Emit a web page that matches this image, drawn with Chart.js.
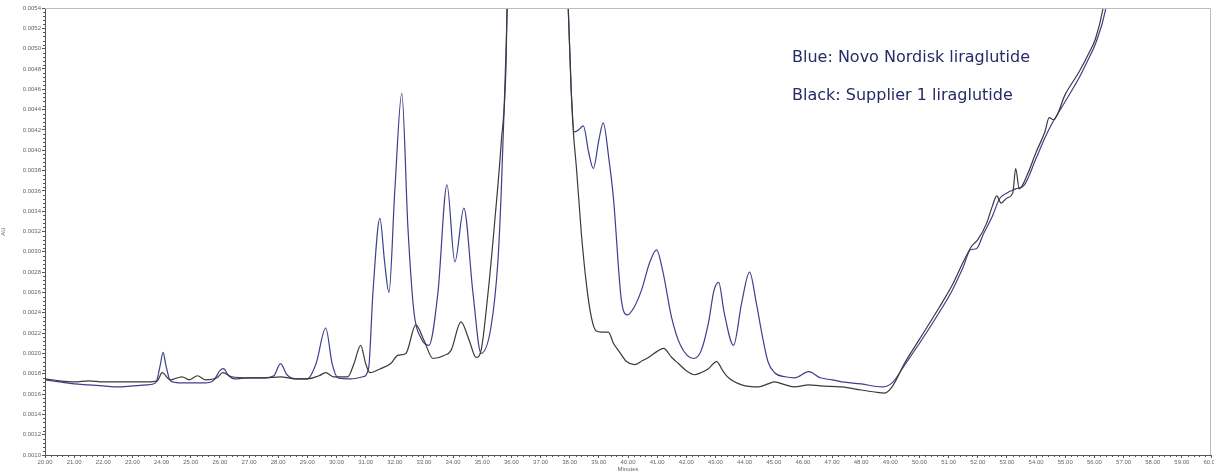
<!DOCTYPE html>
<html>
<head>
<meta charset="utf-8">
<script src="https://cdn.jsdelivr.net/npm/chart.js@4/dist/chart.umd.min.js"></script>
<style>
  html, body { margin: 0; padding: 0; background: #fff; }
  canvas { display: block; }
</style>
</head>
<body>
<canvas id="chrom" width="1214" height="474"></canvas>
<script>
// retention time (min) and absorbance (AU)
const blueTime = [20.0, 20.5, 21.0, 21.5, 22.0, 22.5, 23.0, 23.5, 23.8, 23.95, 24.05, 24.15, 24.3, 24.6, 25.0, 25.5, 25.8, 26.0, 26.12, 26.3, 26.5, 27.0, 27.5, 27.85, 28.08, 28.3, 28.6, 29.0, 29.3, 29.63, 29.85, 30.05, 30.5, 30.9, 31.1, 31.25, 31.49, 31.65, 31.8, 32.0, 32.24, 32.45, 32.66, 32.9, 33.17, 33.48, 33.79, 34.06, 34.37, 34.68, 34.96, 35.3, 35.54, 35.65, 35.75, 35.9, 36.3, 37.0, 37.6, 37.85, 37.95, 38.05, 38.16, 38.3, 38.47, 38.65, 38.81, 39.0, 39.15, 39.35, 39.5, 39.77, 39.98, 40.2, 40.46, 40.75, 40.98, 41.2, 41.49, 41.8, 42.25, 42.5, 42.76, 42.95, 43.11, 43.3, 43.62, 43.9, 44.17, 44.4, 44.59, 44.8, 45.03, 45.4, 45.72, 46.2, 46.6, 47.0, 47.34, 48.0, 48.7, 49.06, 49.5, 50.0, 50.67, 51.12, 51.5, 51.75, 51.95, 52.2, 52.5, 52.74, 53.0, 53.3, 53.6, 54.0, 54.3, 54.56, 55.0, 55.49, 55.8, 56.04, 56.38, 56.7];
const blueAU = [0.00174, 0.00172, 0.00170, 0.00169, 0.00168, 0.00167, 0.00168, 0.00169, 0.00171, 0.00188, 0.00201, 0.00188, 0.00173, 0.00171, 0.00171, 0.00171, 0.00174, 0.00183, 0.00185, 0.00178, 0.00175, 0.00176, 0.00176, 0.00178, 0.00190, 0.00179, 0.00175, 0.00175, 0.00190, 0.00225, 0.00190, 0.00176, 0.00175, 0.00177, 0.00185, 0.00260, 0.00333, 0.00290, 0.00260, 0.00360, 0.00456, 0.00324, 0.00240, 0.00215, 0.00208, 0.00260, 0.00366, 0.00290, 0.00343, 0.00260, 0.00200, 0.00226, 0.00292, 0.00358, 0.00440, 0.00600, 0.01500, 0.02500, 0.01000, 0.00620, 0.00540, 0.00460, 0.00418, 0.00420, 0.00424, 0.00398, 0.00382, 0.00410, 0.00427, 0.00390, 0.00353, 0.00253, 0.00238, 0.00245, 0.00262, 0.00290, 0.00302, 0.00280, 0.00236, 0.00208, 0.00195, 0.00202, 0.00230, 0.00262, 0.00270, 0.00240, 0.00208, 0.00250, 0.00280, 0.00250, 0.00220, 0.00192, 0.00181, 0.00177, 0.00176, 0.00182, 0.00176, 0.00174, 0.00172, 0.00170, 0.00167, 0.00171, 0.00189, 0.00210, 0.00240, 0.00262, 0.00285, 0.00302, 0.00303, 0.00318, 0.00335, 0.00352, 0.00358, 0.00362, 0.00366, 0.00392, 0.00412, 0.00427, 0.00448, 0.00472, 0.00490, 0.00505, 0.00538, 0.00600];

const blackTime = [20.0, 20.5, 21.0, 21.5, 22.0, 22.5, 23.0, 23.5, 23.85, 24.02, 24.3, 24.7, 24.95, 25.23, 25.5, 25.9, 26.1, 26.4, 27.0, 27.5, 28.08, 28.6, 29.0, 29.4, 29.63, 29.9, 30.39, 30.6, 30.83, 31.0, 31.15, 31.28, 31.52, 31.86, 32.1, 32.38, 32.72, 33.0, 33.31, 33.69, 33.93, 34.27, 34.55, 34.79, 34.96, 35.2, 35.41, 35.65, 35.82, 36.0, 36.7, 37.6, 37.95, 38.05, 38.12, 38.23, 38.4, 38.57, 38.74, 38.91, 39.1, 39.33, 39.5, 39.67, 39.95, 40.22, 40.5, 40.7, 41.0, 41.22, 41.5, 41.73, 42.0, 42.28, 42.5, 42.76, 43.04, 43.25, 43.45, 43.9, 44.48, 44.8, 45.03, 45.4, 45.72, 46.2, 46.6, 47.34, 48.0, 48.47, 48.8, 49.06, 49.5, 50.0, 50.67, 51.12, 51.5, 51.8, 52.0, 52.3, 52.5, 52.65, 52.8, 53.0, 53.2, 53.3, 53.42, 53.7, 54.0, 54.3, 54.45, 54.6, 55.0, 55.49, 55.8, 56.04, 56.3, 56.6];
const blackAU = [0.00175, 0.00173, 0.00172, 0.00173, 0.00172, 0.00172, 0.00172, 0.00172, 0.00173, 0.00181, 0.00174, 0.00177, 0.00174, 0.00178, 0.00174, 0.00176, 0.00181, 0.00177, 0.00176, 0.00176, 0.00177, 0.00175, 0.00175, 0.00178, 0.00181, 0.00177, 0.00177, 0.00190, 0.00208, 0.00190, 0.00181, 0.00182, 0.00185, 0.00190, 0.00198, 0.00200, 0.00228, 0.00213, 0.00195, 0.00198, 0.00203, 0.00231, 0.00213, 0.00196, 0.00203, 0.00260, 0.00324, 0.00407, 0.00489, 0.00800, 0.03000, 0.00900, 0.00540, 0.00460, 0.00420, 0.00383, 0.00318, 0.00269, 0.00236, 0.00222, 0.00221, 0.00221, 0.00210, 0.00203, 0.00192, 0.00189, 0.00193, 0.00196, 0.00202, 0.00205, 0.00196, 0.00190, 0.00183, 0.00179, 0.00181, 0.00185, 0.00192, 0.00183, 0.00176, 0.00169, 0.00167, 0.00170, 0.00172, 0.00169, 0.00167, 0.00169, 0.00168, 0.00167, 0.00164, 0.00162, 0.00161, 0.00167, 0.00191, 0.00214, 0.00245, 0.00267, 0.00290, 0.00306, 0.00312, 0.00328, 0.00345, 0.00355, 0.00348, 0.00353, 0.00358, 0.00382, 0.00362, 0.00376, 0.00398, 0.00418, 0.00432, 0.00430, 0.00455, 0.00478, 0.00495, 0.00510, 0.00540, 0.00600];

const seriesNames = ['Blue: Novo Nordisk liraglutide', 'Black: Supplier 1 liraglutide'];
const xRange = [20, 60];
const yRange = [0.0010, 0.0054];

const tickFont = { family: 'Liberation Sans', size: 6 };
const tickGrey = '#666';

function toPoints(times, values) {
    return times.map((t, i) => ({ x: t, y: values[i] }));
}

// small ticks between the labelled ones, like the instrument software draws
const minorTicks = {
    id: 'minorTicks',
    afterDraw(chart) {
        const { ctx, chartArea: a, scales: { x, y } } = chart;
        ctx.save();
        ctx.strokeStyle = '#555';
        ctx.lineWidth = 1;
        ctx.beginPath();
        for (let i = 0; i <= 200; i++) {
            if (i % 5 === 0) continue;
            const px = Math.round(x.getPixelForValue(xRange[0] + i * 0.2)) + 0.5;
            ctx.moveTo(px, a.bottom);
            ctx.lineTo(px, a.bottom + 2);
        }
        for (let i = 0; i <= 110; i++) {
            if (i % 5 === 0) continue;
            const py = Math.round(y.getPixelForValue(yRange[0] + i * 0.00004)) + 0.5;
            ctx.moveTo(a.left - 2, py);
            ctx.lineTo(a.left, py);
        }
        ctx.stroke();
        // frame on top and right
        ctx.strokeStyle = '#bbb';
        ctx.beginPath();
        ctx.moveTo(a.left, a.top + 0.5);
        ctx.lineTo(a.right - 0.5, a.top + 0.5);
        ctx.lineTo(a.right - 0.5, a.bottom);
        ctx.stroke();
        ctx.restore();
    }
};

// the two-line note in the upper right
const noteText = {
    id: 'noteText',
    afterDatasetsDraw(chart) {
        const { ctx } = chart;
        ctx.save();
        ctx.fillStyle = '#262b66';
        ctx.font = '16px "DejaVu Sans"';
        ctx.textBaseline = 'alphabetic';
        ctx.fillText(seriesNames[0], 792, 62);
        ctx.fillText(seriesNames[1], 792, 100);
        ctx.restore();
    }
};

new Chart(document.getElementById('chrom'), {
    type: 'line',
    data: {
        datasets: [
            {
                label: seriesNames[1],
                data: toPoints(blackTime, blackAU),
                borderColor: '#3a3a3a',
                borderWidth: 1.2
            },
            {
                label: seriesNames[0],
                data: toPoints(blueTime, blueAU),
                borderColor: '#3b3f8c',
                borderWidth: 1.2
            }
        ]
    },
    options: {
        responsive: false,
        animation: false,
        devicePixelRatio: 1,
        layout: { padding: { top: 8, right: 3, left: 0, bottom: 0 } },
        elements: {
            point: { radius: 0 },
            line: { cubicInterpolationMode: 'monotone', fill: false }
        },
        plugins: {
            legend: { display: false },
            tooltip: { enabled: false }
        },
        scales: {
            x: {
                type: 'linear',
                min: xRange[0],
                max: xRange[1],
                border: { color: '#555', width: 1 },
                grid: { drawOnChartArea: false, tickLength: 3, color: '#555' },
                ticks: {
                    stepSize: 1,
                    autoSkip: false,
                    maxRotation: 0,
                    padding: 1,
                    font: tickFont,
                    color: tickGrey,
                    callback: v => v.toFixed(2)
                },
                title: {
                    display: true,
                    text: 'Minutes',
                    font: tickFont,
                    color: tickGrey,
                    padding: { top: 0, bottom: 1 }
                },
                afterFit(scale) {
                    scale.height = 19;
                    scale.paddingLeft = 0;
                    scale.paddingRight = 0;
                }
            },
            y: {
                min: yRange[0],
                max: yRange[1],
                border: { color: '#555', width: 1 },
                grid: { drawOnChartArea: false, tickLength: 3, color: '#555' },
                ticks: {
                    stepSize: 0.0002,
                    padding: 1,
                    font: tickFont,
                    color: tickGrey,
                    callback: v => v.toFixed(4)
                },
                title: {
                    display: true,
                    text: 'AU',
                    font: tickFont,
                    color: tickGrey,
                    padding: { top: 0, bottom: 0 }
                },
                afterFit(scale) {
                    scale.width = 45;
                    scale.paddingTop = 0;
                    scale.paddingBottom = 0;
                }
            }
        }
    },
    plugins: [minorTicks, noteText]
});
</script>
</body>
</html>
